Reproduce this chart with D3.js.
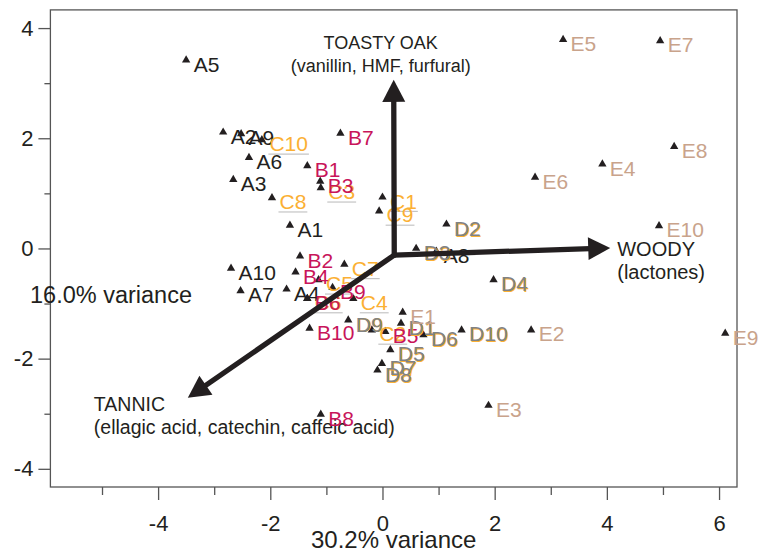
<!DOCTYPE html>
<html>
<head>
<meta charset="utf-8">
<script src="https://cdn.jsdelivr.net/npm/d3@7"></script>
<style>
  body { margin: 0; background: #fff; }
  svg { font-family: "Liberation Sans", Arial, sans-serif; }
</style>
</head>
<body>
<div id="chart"></div>
<script>
// sample scores (PC1, PC2)
const samples = ["A1","A2","A3","A4","A5","A6","A7","A8","A9","A10",
                 "B1","B2","B3","B4","B5","B6","B7","B8","B9","B10",
                 "C1","C2","C3","C4","C5","C6","C7","C8","C9","C10",
                 "D1","D2","D3","D4","D5","D6","D7","D8","D9","D10",
                 "E1","E2","E3","E4","E5","E6","E7","E8","E9","E10"];
const pc1 = [-1.65,-2.84,-2.66,-1.71,-3.50,-2.38,-2.53,0.96,-2.52,-2.70,
             -1.34,-1.47,-1.11,-1.55,0.05,-1.34,-0.75,-1.10,-0.89,-1.30,
             0.00,-0.19,-1.10,-0.52,-1.14,-1.34,-0.68,-1.97,-0.06,-2.15,
             0.33,1.14,0.60,1.98,0.14,0.73,-0.01,-0.09,-0.61,1.41,
             0.36,2.65,1.89,3.92,3.22,2.72,4.95,5.20,6.11,4.93];
const pc2 = [0.42,2.11,1.25,-0.74,3.42,1.65,-0.77,-0.05,2.08,-0.36,
             1.50,-0.14,1.22,-0.43,-1.51,-0.91,2.09,-3.01,-0.71,-1.45,
             0.93,-1.48,1.10,-0.91,-0.57,-0.91,-0.29,0.92,0.68,1.97,
             -1.36,0.44,0.00,-0.57,-1.84,-1.57,-2.09,-2.21,-1.30,-1.48,
             -1.16,-1.48,-2.85,1.53,3.79,1.29,3.77,1.85,-1.54,0.41];

// biplot vectors: origin and tips
const vecNames = ["TOASTY OAK", "WOODY", "TANNIC"];
const vecNotes = ["(vanillin, HMF, furfural)", "(lactones)", "(ellagic acid, catechin, caffeic acid)"];
const vecOrigin = [0.21, -0.12];
const vecX = [0.20, 4.06, -3.47];
const vecY = [3.06, 0.01, -2.71];

const xTicks = [-4, -2, 0, 2, 4, 6];
const xMinor = [-5, -3, -1, 1, 3, 5];
const yTicks = [-4, -2, 0, 2, 4];
const yMinor = [-3, -1, 1, 3];
const xTitle = "30.2% variance";
const yTitle = "16.0% variance";

const colors = { A: "#231f20", B: "#c8155a", C: "#fbb034", D: "#808285", E: "#c9a38b" };
const ink = "#231f20";

const W = 759, H = 552;
const svg = d3.select("#chart").append("svg").attr("width", W).attr("height", H);

const x = d3.scaleLinear().domain([-5.92, 6.32]).range([50.4, 737]);
const y = d3.scaleLinear().domain([-4.33, 4.33]).range([487, 9.9]);

// frame
svg.append("rect")
  .attr("x", x(-5.92)).attr("y", y(4.33))
  .attr("width", x(6.32) - x(-5.92)).attr("height", y(-4.33) - y(4.33))
  .attr("fill", "none").attr("stroke", "#555").attr("stroke-width", 1.3);

// axes
function styleAxis(g) {
  g.select(".domain").remove();
  g.selectAll("line").attr("stroke", "#555").attr("stroke-width", 1.3);
  g.selectAll("text").attr("fill", ink).style("font-size", "22px").attr("font-family", null);
}
svg.append("g").attr("transform", "translate(0," + y(-4.33) + ")")
  .call(d3.axisBottom(x).tickValues(xTicks).tickSize(13).tickPadding(15).tickFormat(String))
  .call(styleAxis);
svg.append("g").attr("transform", "translate(0," + y(-4.33) + ")")
  .call(d3.axisBottom(x).tickValues(xMinor).tickSize(8).tickFormat(""))
  .call(styleAxis);
svg.append("g").attr("transform", "translate(" + x(-5.92) + ",0)")
  .call(d3.axisLeft(y).tickValues(yTicks).tickSize(12).tickPadding(5).tickFormat(String))
  .call(styleAxis);
svg.append("g").attr("transform", "translate(" + x(-5.92) + ",0)")
  .call(d3.axisLeft(y).tickValues(yMinor).tickSize(6).tickFormat(""))
  .call(styleAxis);

svg.append("text").attr("x", (x(-5.92) + x(6.32)) / 2).attr("y", 548)
  .attr("text-anchor", "middle").attr("fill", ink).style("font-size", "24px").text(xTitle);
svg.append("text").attr("x", 30).attr("y", 303)
  .attr("fill", ink).style("font-size", "23.5px").text(yTitle);

// arrow labels (under the point labels)
const ox = x(vecOrigin[0]), oy = y(vecOrigin[1]);
const labelPos = [
  { x: -13, y: -31, anchor: "middle", size: 18 },
  { x: 7, y: 8, anchor: "start", size: 20 },
  { x: -94, y: 13, anchor: "start", size: 19.5 }
];
vecNames.forEach(function(name, i) {
  const tx = x(vecX[i]), ty = y(vecY[i]);
  const t = svg.append("text").attr("fill", ink).style("font-size", labelPos[i].size + "px")
    .attr("text-anchor", labelPos[i].anchor);
  t.append("tspan").attr("x", tx + labelPos[i].x).attr("y", ty + labelPos[i].y).text(name);
  t.append("tspan").attr("x", tx + labelPos[i].x).attr("dy", 23.5).text(vecNotes[i]);
});

// points
const pts = samples.map(function(s, i) {
  return { name: s, group: s[0], px: pc1[i], py: pc2[i] };
});
const order = ["A", "C", "B", "D", "E"];
pts.sort(function(a, b) { return order.indexOf(a.group) - order.indexOf(b.group); });

const tri = d3.symbol().type(d3.symbolTriangle).size(30);
svg.append("g").selectAll("path").data(pts).enter().append("path")
  .attr("d", tri)
  .attr("transform", function(d) { return "translate(" + x(d.px) + "," + y(d.py) + ")"; })
  .attr("fill", ink);

const lab = svg.append("g").style("font-size", "21px");
pts.forEach(function(d) {
  const lx = x(d.px) + 7.5, ly = y(d.py) + 11.5;
  if (d.group === "D") {
    lab.append("text").attr("x", lx + 1).attr("y", ly + 0.8).attr("fill", colors.C).text(d.name);
  }
  const t = lab.append("text").attr("x", lx).attr("y", ly).attr("fill", colors[d.group]).text(d.name);
  if (d.group === "C") {
    const w = t.node().getComputedTextLength();
    lab.insert("line", ":first-child")
      .attr("x1", lx - 1).attr("x2", lx + w + 1)
      .attr("y1", ly + 2.7).attr("y2", ly + 2.7)
      .attr("stroke", "#c4c4c4").attr("stroke-width", 1.2);
  }
});

// arrows on top
const headLen = 22, headW = 23;
vecNames.forEach(function(name, i) {
  const tx = x(vecX[i]), ty = y(vecY[i]);
  const dx = tx - ox, dy = ty - oy, len = Math.sqrt(dx * dx + dy * dy);
  const ux = dx / len, uy = dy / len;
  const bx = tx - ux * headLen, by = ty - uy * headLen;
  svg.append("line").attr("x1", ox).attr("y1", oy).attr("x2", bx + ux * 2).attr("y2", by + uy * 2)
    .attr("stroke", ink).attr("stroke-width", 5.3).attr("stroke-linecap", "round");
  svg.append("path")
    .attr("d", "M" + tx + "," + ty +
      "L" + (bx - uy * headW / 2) + "," + (by + ux * headW / 2) +
      "L" + (bx + uy * headW / 2) + "," + (by - ux * headW / 2) + "Z")
    .attr("fill", ink);
});
</script>
</body>
</html>
